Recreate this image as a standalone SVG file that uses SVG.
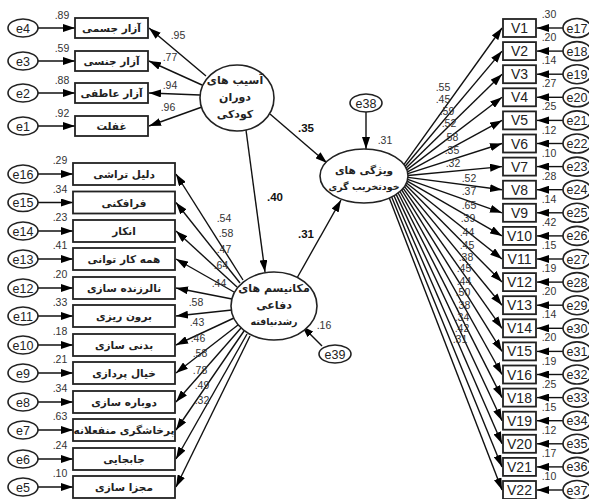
<svg xmlns="http://www.w3.org/2000/svg" width="589" height="499" viewBox="0 0 589 499">
<defs>
<marker id="ah" viewBox="0 0 12 8" refX="12" refY="4" markerWidth="12" markerHeight="8" markerUnits="userSpaceOnUse" orient="auto"><path d="M0,0 L12,4 L0,8 z" fill="#000"/></marker>
<style>
.box{fill:#fff;stroke:#222;stroke-width:1.8}
.el{fill:#fff;stroke:#222;stroke-width:1.6}
.ln{stroke:#111;stroke-width:1.4;fill:none;marker-end:url(#ah)}
.fa{font-family:"DejaVu Sans",sans-serif;font-size:10.5px;font-weight:bold;fill:#222;text-anchor:middle}
.fl{font-family:"DejaVu Sans",sans-serif;font-size:11px;font-weight:bold;fill:#222;text-anchor:middle}
.et{font-family:"Liberation Sans",Arial,sans-serif;font-size:12.5px;fill:#222;text-anchor:middle}
.vt{font-family:"Liberation Sans",Arial,sans-serif;font-size:14px;fill:#222;text-anchor:middle}
.nm{font-family:"Liberation Sans",Arial,sans-serif;font-size:10.5px;fill:#333;text-anchor:middle}
.bd{font-family:"Liberation Sans",Arial,sans-serif;font-size:11.5px;font-weight:bold;fill:#111;text-anchor:middle}
</style>
</defs>
<rect width="589" height="499" fill="#fff"/>

<g id="connectors">
<line class="ln" x1="38" y1="28" x2="75" y2="28"/>
<line class="ln" x1="38" y1="61" x2="75" y2="61"/>
<line class="ln" x1="38" y1="93" x2="75" y2="93"/>
<line class="ln" x1="38" y1="126" x2="75" y2="126"/>
<line class="ln" x1="206" y1="76" x2="149" y2="28"/>
<line class="ln" x1="202" y1="85" x2="149" y2="61"/>
<line class="ln" x1="200" y1="95" x2="149" y2="93"/>
<line class="ln" x1="202" y1="107" x2="149" y2="126"/>
<line class="ln" x1="246" y1="130" x2="265" y2="272"/>
<line class="ln" x1="270" y1="114" x2="327" y2="163"/>
<line class="ln" x1="297" y1="278" x2="341" y2="200"/>
<line class="ln" x1="366" y1="112" x2="366" y2="149"/>
<line class="ln" x1="322" y1="346" x2="302" y2="326"/>
<line class="ln" x1="38" y1="174" x2="73" y2="174"/>
<line class="ln" x1="38" y1="202.5" x2="73" y2="202.5"/>
<line class="ln" x1="38" y1="231" x2="73" y2="231"/>
<line class="ln" x1="38" y1="259" x2="73" y2="259"/>
<line class="ln" x1="38" y1="288" x2="73" y2="288"/>
<line class="ln" x1="38" y1="316" x2="73" y2="316"/>
<line class="ln" x1="38" y1="345" x2="73" y2="345"/>
<line class="ln" x1="38" y1="373" x2="73" y2="373"/>
<line class="ln" x1="38" y1="402" x2="73" y2="402"/>
<line class="ln" x1="38" y1="430" x2="73" y2="430"/>
<line class="ln" x1="38" y1="459" x2="73" y2="459"/>
<line class="ln" x1="38" y1="487" x2="73" y2="487"/>
<line class="ln" x1="243" y1="280" x2="176" y2="174"/>
<line class="ln" x1="240" y1="283" x2="176" y2="202.5"/>
<line class="ln" x1="237" y1="287" x2="176" y2="231"/>
<line class="ln" x1="234" y1="292" x2="176" y2="259"/>
<line class="ln" x1="232" y1="299" x2="176" y2="288"/>
<line class="ln" x1="232" y1="310" x2="176" y2="316"/>
<line class="ln" x1="234" y1="318" x2="176" y2="345"/>
<line class="ln" x1="238" y1="325" x2="176" y2="373"/>
<line class="ln" x1="241" y1="328" x2="176" y2="402"/>
<line class="ln" x1="244" y1="331" x2="176" y2="430"/>
<line class="ln" x1="247" y1="334" x2="176" y2="459"/>
<line class="ln" x1="250" y1="336" x2="176" y2="487"/>
<line class="ln" x1="403.9" y1="164.6" x2="502" y2="28"/>
<line class="ln" x1="405.1" y1="166.3" x2="502" y2="51.1"/>
<line class="ln" x1="406.1" y1="168.1" x2="502" y2="74.2"/>
<line class="ln" x1="406.9" y1="169.9" x2="502" y2="97.3"/>
<line class="ln" x1="407.5" y1="171.8" x2="502" y2="120.4"/>
<line class="ln" x1="407.8" y1="173.6" x2="502" y2="143.5"/>
<line class="ln" x1="408" y1="175.5" x2="502" y2="166.6"/>
<line class="ln" x1="408" y1="177.4" x2="502" y2="189.7"/>
<line class="ln" x1="407.7" y1="179.3" x2="502" y2="212.8"/>
<line class="ln" x1="407.2" y1="181.2" x2="502" y2="235.9"/>
<line class="ln" x1="406.5" y1="183" x2="502" y2="259"/>
<line class="ln" x1="405.6" y1="184.8" x2="502" y2="282.1"/>
<line class="ln" x1="404.5" y1="186.6" x2="502" y2="305.2"/>
<line class="ln" x1="403.2" y1="188.3" x2="502" y2="328.3"/>
<line class="ln" x1="401.7" y1="189.9" x2="502" y2="351.4"/>
<line class="ln" x1="400" y1="191.5" x2="502" y2="374.5"/>
<line class="ln" x1="398.2" y1="193" x2="502" y2="397.6"/>
<line class="ln" x1="396.2" y1="194.4" x2="502" y2="420.7"/>
<line class="ln" x1="394" y1="195.7" x2="502" y2="443.8"/>
<line class="ln" x1="391.7" y1="197" x2="502" y2="466.9"/>
<line class="ln" x1="389.3" y1="198.1" x2="502" y2="490"/>
<line class="ln" x1="563" y1="28" x2="537" y2="28"/>
<line class="ln" x1="563" y1="51.1" x2="537" y2="51.1"/>
<line class="ln" x1="563" y1="74.2" x2="537" y2="74.2"/>
<line class="ln" x1="563" y1="97.3" x2="537" y2="97.3"/>
<line class="ln" x1="563" y1="120.4" x2="537" y2="120.4"/>
<line class="ln" x1="563" y1="143.5" x2="537" y2="143.5"/>
<line class="ln" x1="563" y1="166.6" x2="537" y2="166.6"/>
<line class="ln" x1="563" y1="189.7" x2="537" y2="189.7"/>
<line class="ln" x1="563" y1="212.8" x2="537" y2="212.8"/>
<line class="ln" x1="563" y1="235.9" x2="537" y2="235.9"/>
<line class="ln" x1="563" y1="259" x2="537" y2="259"/>
<line class="ln" x1="563" y1="282.1" x2="537" y2="282.1"/>
<line class="ln" x1="563" y1="305.2" x2="537" y2="305.2"/>
<line class="ln" x1="563" y1="328.3" x2="537" y2="328.3"/>
<line class="ln" x1="563" y1="351.4" x2="537" y2="351.4"/>
<line class="ln" x1="563" y1="374.5" x2="537" y2="374.5"/>
<line class="ln" x1="563" y1="397.6" x2="537" y2="397.6"/>
<line class="ln" x1="563" y1="420.7" x2="537" y2="420.7"/>
<line class="ln" x1="563" y1="443.8" x2="537" y2="443.8"/>
<line class="ln" x1="563" y1="466.9" x2="537" y2="466.9"/>
<line class="ln" x1="563" y1="490" x2="537" y2="490"/>
</g>

<g id="coefficients">
<text class="bd" x="306" y="132">.35</text>
<text class="bd" x="275" y="201">.40</text>
<text class="bd" x="306" y="238">.31</text>
<text class="nm" x="385" y="144">.31</text>
<text class="nm" x="324" y="329">.16</text>
<text class="nm" x="178" y="39">.95</text>
<text class="nm" x="170" y="61">.77</text>
<text class="nm" x="170" y="89">.94</text>
<text class="nm" x="168" y="111">.96</text>
<text class="nm" x="62" y="19">.89</text>
<text class="nm" x="62" y="52">.59</text>
<text class="nm" x="62" y="84">.88</text>
<text class="nm" x="62" y="117">.92</text>
<text class="nm" x="60" y="164">.29</text>
<text class="nm" x="60" y="192.5">.34</text>
<text class="nm" x="60" y="221">.23</text>
<text class="nm" x="60" y="249">.41</text>
<text class="nm" x="60" y="278">.20</text>
<text class="nm" x="60" y="306">.33</text>
<text class="nm" x="60" y="335">.18</text>
<text class="nm" x="60" y="363">.21</text>
<text class="nm" x="60" y="392">.34</text>
<text class="nm" x="60" y="420">.63</text>
<text class="nm" x="60" y="449">.24</text>
<text class="nm" x="60" y="477">.10</text>
<text class="nm" x="224" y="222">.54</text>
<text class="nm" x="226" y="237">.58</text>
<text class="nm" x="224" y="253">.47</text>
<text class="nm" x="221" y="269">.64</text>
<text class="nm" x="219" y="287">.44</text>
<text class="nm" x="196" y="306">.58</text>
<text class="nm" x="197" y="326">.43</text>
<text class="nm" x="198" y="342">.46</text>
<text class="nm" x="200" y="357">.58</text>
<text class="nm" x="200" y="374">.78</text>
<text class="nm" x="202" y="389">.49</text>
<text class="nm" x="202" y="404">.32</text>
<text class="nm" x="443" y="91">.55</text>
<text class="nm" x="443" y="103">.45</text>
<text class="nm" x="447" y="115">.59</text>
<text class="nm" x="449" y="127">.52</text>
<text class="nm" x="451" y="141">.58</text>
<text class="nm" x="452" y="154">.35</text>
<text class="nm" x="453" y="167">.32</text>
<text class="nm" x="469" y="182">.52</text>
<text class="nm" x="469" y="195">.37</text>
<text class="nm" x="469" y="209">.65</text>
<text class="nm" x="468" y="222">.39</text>
<text class="nm" x="467" y="236">.44</text>
<text class="nm" x="467" y="249">.45</text>
<text class="nm" x="466" y="261">.38</text>
<text class="nm" x="464" y="272">.45</text>
<text class="nm" x="464" y="285">.44</text>
<text class="nm" x="463" y="296">.50</text>
<text class="nm" x="463" y="309">.38</text>
<text class="nm" x="462" y="321">.34</text>
<text class="nm" x="462" y="332">.42</text>
<text class="nm" x="460" y="343">.31</text>
<text class="nm" x="549" y="18">.30</text>
<text class="nm" x="549" y="41.1">.20</text>
<text class="nm" x="549" y="64.2">.14</text>
<text class="nm" x="549" y="87.3">.27</text>
<text class="nm" x="549" y="110.4">.25</text>
<text class="nm" x="549" y="133.5">.12</text>
<text class="nm" x="549" y="156.6">.10</text>
<text class="nm" x="549" y="179.7">.28</text>
<text class="nm" x="549" y="202.8">.14</text>
<text class="nm" x="549" y="225.9">.42</text>
<text class="nm" x="549" y="249">.15</text>
<text class="nm" x="549" y="272.1">.19</text>
<text class="nm" x="549" y="295.2">.20</text>
<text class="nm" x="549" y="318.3">.14</text>
<text class="nm" x="549" y="341.4">.20</text>
<text class="nm" x="549" y="364.5">.19</text>
<text class="nm" x="549" y="387.6">.25</text>
<text class="nm" x="549" y="410.7">.15</text>
<text class="nm" x="549" y="433.8">.12</text>
<text class="nm" x="549" y="456.9">.17</text>
<text class="nm" x="549" y="480">.10</text>
</g>

<g id="childhood"><ellipse class="el" cx="237" cy="98" rx="37" ry="33"/><text class="fl" x="235" y="84">آسیب های</text><text class="fl" x="235" y="101">دوران</text><text class="fl" x="235" y="118">کودکی</text></g>
<g id="defense"><ellipse class="el" cx="274" cy="306" rx="43" ry="34"/><text class="fl" x="274" y="292">مکانیسم های</text><text class="fl" x="274" y="309">دفاعی</text><text class="fa" x="274" y="325" style="font-size:9.5px">رشدنیافته</text></g>
<g id="selfdestruct"><ellipse class="el" cx="364" cy="176" rx="44" ry="27"/><text class="fl" x="364" y="174" style="font-size:10.5px">ویژگی های</text><text class="fl" x="364" y="190" style="font-size:9.5px">خودتخریب گری</text></g>
<g id="e38"><ellipse class="el" cx="366" cy="103" rx="16" ry="9"/><text class="et" x="366" y="107.5">e38</text></g>
<g id="e39"><ellipse class="el" cx="335" cy="354" rx="16" ry="9"/><text class="et" x="335" y="358.5">e39</text></g>

<g id="n-e4"><ellipse class="el" cx="23" cy="28" rx="15" ry="9"/><text class="et" x="23" y="32.5">e4</text></g>
<g id="n-e3"><ellipse class="el" cx="23" cy="61" rx="15" ry="9"/><text class="et" x="23" y="65.5">e3</text></g>
<g id="n-e2"><ellipse class="el" cx="23" cy="93" rx="15" ry="9"/><text class="et" x="23" y="97.5">e2</text></g>
<g id="n-e1"><ellipse class="el" cx="23" cy="126" rx="15" ry="9"/><text class="et" x="23" y="130.5">e1</text></g>
<g id="b-physical"><rect class="box" x="75" y="18" width="73" height="20"/><text class="fa" x="111.5" y="32">آزار جسمی</text></g>
<g id="b-sexual"><rect class="box" x="75" y="51" width="73" height="20"/><text class="fa" x="111.5" y="65">آزار جنسی</text></g>
<g id="b-emotional"><rect class="box" x="75" y="83" width="73" height="20"/><text class="fa" x="111.5" y="97">آزار عاطفی</text></g>
<g id="b-neglect"><rect class="box" x="75" y="116" width="73" height="20"/><text class="fa" x="111.5" y="130">غفلت</text></g>

<g id="n-e16"><ellipse class="el" cx="23" cy="174" rx="15" ry="9"/><text class="et" x="23" y="178.5">e16</text></g>
<g id="n-e15"><ellipse class="el" cx="23" cy="202.5" rx="15" ry="9"/><text class="et" x="23" y="207">e15</text></g>
<g id="n-e14"><ellipse class="el" cx="23" cy="231" rx="15" ry="9"/><text class="et" x="23" y="235.5">e14</text></g>
<g id="n-e13"><ellipse class="el" cx="23" cy="259" rx="15" ry="9"/><text class="et" x="23" y="263.5">e13</text></g>
<g id="n-e12"><ellipse class="el" cx="23" cy="288" rx="15" ry="9"/><text class="et" x="23" y="292.5">e12</text></g>
<g id="n-e11"><ellipse class="el" cx="23" cy="316" rx="15" ry="9"/><text class="et" x="23" y="320.5">e11</text></g>
<g id="n-e10"><ellipse class="el" cx="23" cy="345" rx="15" ry="9"/><text class="et" x="23" y="349.5">e10</text></g>
<g id="n-e9"><ellipse class="el" cx="23" cy="373" rx="15" ry="9"/><text class="et" x="23" y="377.5">e9</text></g>
<g id="n-e8"><ellipse class="el" cx="23" cy="402" rx="15" ry="9"/><text class="et" x="23" y="406.5">e8</text></g>
<g id="n-e7"><ellipse class="el" cx="23" cy="430" rx="15" ry="9"/><text class="et" x="23" y="434.5">e7</text></g>
<g id="n-e6"><ellipse class="el" cx="23" cy="459" rx="15" ry="9"/><text class="et" x="23" y="463.5">e6</text></g>
<g id="n-e5"><ellipse class="el" cx="23" cy="487" rx="15" ry="9"/><text class="et" x="23" y="491.5">e5</text></g>
<g id="b1"><rect class="box" x="73" y="163" width="102" height="22"/><text class="fa" x="124" y="178">دلیل تراشی</text></g>
<g id="b2"><rect class="box" x="73" y="191.5" width="102" height="22"/><text class="fa" x="124" y="206.5">فرافکنی</text></g>
<g id="b3"><rect class="box" x="73" y="220" width="102" height="22"/><text class="fa" x="124" y="235">انکار</text></g>
<g id="b4"><rect class="box" x="73" y="248" width="102" height="22"/><text class="fa" x="124" y="263">همه کار توانی</text></g>
<g id="b5"><rect class="box" x="73" y="277" width="102" height="22"/><text class="fa" x="124" y="292">نالرزنده سازی</text></g>
<g id="b6"><rect class="box" x="73" y="305" width="102" height="22"/><text class="fa" x="124" y="320">برون ریزی</text></g>
<g id="b7"><rect class="box" x="73" y="334" width="102" height="22"/><text class="fa" x="124" y="349">بدنی سازی</text></g>
<g id="b8"><rect class="box" x="73" y="362" width="102" height="22"/><text class="fa" x="124" y="377">خیال پردازی</text></g>
<g id="b9"><rect class="box" x="73" y="391" width="102" height="22"/><text class="fa" x="124" y="406">دوباره سازی</text></g>
<g id="b10"><rect class="box" x="73" y="419" width="102" height="22"/><text class="fa" x="124" y="434">پرخاشگری منفعلانه</text></g>
<g id="b11"><rect class="box" x="73" y="448" width="102" height="22"/><text class="fa" x="124" y="463">جابجایی</text></g>
<g id="b12"><rect class="box" x="73" y="476" width="102" height="22"/><text class="fa" x="124" y="491">مجزا سازی</text></g>

<g id="V1"><rect class="box" x="503" y="19" width="33" height="18"/><text class="vt" x="519.5" y="33">V1</text></g>
<g id="V2"><rect class="box" x="503" y="42.1" width="33" height="18"/><text class="vt" x="519.5" y="56.1">V2</text></g>
<g id="V3"><rect class="box" x="503" y="65.2" width="33" height="18"/><text class="vt" x="519.5" y="79.2">V3</text></g>
<g id="V4"><rect class="box" x="503" y="88.3" width="33" height="18"/><text class="vt" x="519.5" y="102.3">V4</text></g>
<g id="V5"><rect class="box" x="503" y="111.4" width="33" height="18"/><text class="vt" x="519.5" y="125.4">V5</text></g>
<g id="V6"><rect class="box" x="503" y="134.5" width="33" height="18"/><text class="vt" x="519.5" y="148.5">V6</text></g>
<g id="V7"><rect class="box" x="503" y="157.6" width="33" height="18"/><text class="vt" x="519.5" y="171.6">V7</text></g>
<g id="V8"><rect class="box" x="503" y="180.7" width="33" height="18"/><text class="vt" x="519.5" y="194.7">V8</text></g>
<g id="V9"><rect class="box" x="503" y="203.8" width="33" height="18"/><text class="vt" x="519.5" y="217.8">V9</text></g>
<g id="V10"><rect class="box" x="503" y="226.9" width="33" height="18"/><text class="vt" x="519.5" y="240.9">V10</text></g>
<g id="V11"><rect class="box" x="503" y="250" width="33" height="18"/><text class="vt" x="519.5" y="264">V11</text></g>
<g id="V12"><rect class="box" x="503" y="273.1" width="33" height="18"/><text class="vt" x="519.5" y="287.1">V12</text></g>
<g id="V13"><rect class="box" x="503" y="296.2" width="33" height="18"/><text class="vt" x="519.5" y="310.2">V13</text></g>
<g id="V14"><rect class="box" x="503" y="319.3" width="33" height="18"/><text class="vt" x="519.5" y="333.3">V14</text></g>
<g id="V15"><rect class="box" x="503" y="342.4" width="33" height="18"/><text class="vt" x="519.5" y="356.4">V15</text></g>
<g id="V16"><rect class="box" x="503" y="365.5" width="33" height="18"/><text class="vt" x="519.5" y="379.5">V16</text></g>
<g id="V18"><rect class="box" x="503" y="388.6" width="33" height="18"/><text class="vt" x="519.5" y="402.6">V18</text></g>
<g id="V19"><rect class="box" x="503" y="411.7" width="33" height="18"/><text class="vt" x="519.5" y="425.7">V19</text></g>
<g id="V20"><rect class="box" x="503" y="434.8" width="33" height="18"/><text class="vt" x="519.5" y="448.8">V20</text></g>
<g id="V21"><rect class="box" x="503" y="457.9" width="33" height="18"/><text class="vt" x="519.5" y="471.9">V21</text></g>
<g id="V22"><rect class="box" x="503" y="481" width="33" height="18"/><text class="vt" x="519.5" y="495">V22</text></g>
<g id="e17"><ellipse class="el" cx="577" cy="28" rx="14" ry="9.5"/><text class="et" x="577" y="32.5">e17</text></g>
<g id="e18"><ellipse class="el" cx="577" cy="51.1" rx="14" ry="9.5"/><text class="et" x="577" y="55.6">e18</text></g>
<g id="e19"><ellipse class="el" cx="577" cy="74.2" rx="14" ry="9.5"/><text class="et" x="577" y="78.7">e19</text></g>
<g id="e20"><ellipse class="el" cx="577" cy="97.3" rx="14" ry="9.5"/><text class="et" x="577" y="101.8">e20</text></g>
<g id="e21"><ellipse class="el" cx="577" cy="120.4" rx="14" ry="9.5"/><text class="et" x="577" y="124.9">e21</text></g>
<g id="e22"><ellipse class="el" cx="577" cy="143.5" rx="14" ry="9.5"/><text class="et" x="577" y="148">e22</text></g>
<g id="e23"><ellipse class="el" cx="577" cy="166.6" rx="14" ry="9.5"/><text class="et" x="577" y="171.1">e23</text></g>
<g id="e24"><ellipse class="el" cx="577" cy="189.7" rx="14" ry="9.5"/><text class="et" x="577" y="194.2">e24</text></g>
<g id="e25"><ellipse class="el" cx="577" cy="212.8" rx="14" ry="9.5"/><text class="et" x="577" y="217.3">e25</text></g>
<g id="e26"><ellipse class="el" cx="577" cy="235.9" rx="14" ry="9.5"/><text class="et" x="577" y="240.4">e26</text></g>
<g id="e27"><ellipse class="el" cx="577" cy="259" rx="14" ry="9.5"/><text class="et" x="577" y="263.5">e27</text></g>
<g id="e28"><ellipse class="el" cx="577" cy="282.1" rx="14" ry="9.5"/><text class="et" x="577" y="286.6">e28</text></g>
<g id="e29"><ellipse class="el" cx="577" cy="305.2" rx="14" ry="9.5"/><text class="et" x="577" y="309.7">e29</text></g>
<g id="e30"><ellipse class="el" cx="577" cy="328.3" rx="14" ry="9.5"/><text class="et" x="577" y="332.8">e30</text></g>
<g id="e31"><ellipse class="el" cx="577" cy="351.4" rx="14" ry="9.5"/><text class="et" x="577" y="355.9">e31</text></g>
<g id="e32"><ellipse class="el" cx="577" cy="374.5" rx="14" ry="9.5"/><text class="et" x="577" y="379">e32</text></g>
<g id="e33"><ellipse class="el" cx="577" cy="397.6" rx="14" ry="9.5"/><text class="et" x="577" y="402.1">e33</text></g>
<g id="e34"><ellipse class="el" cx="577" cy="420.7" rx="14" ry="9.5"/><text class="et" x="577" y="425.2">e34</text></g>
<g id="e35"><ellipse class="el" cx="577" cy="443.8" rx="14" ry="9.5"/><text class="et" x="577" y="448.3">e35</text></g>
<g id="e36"><ellipse class="el" cx="577" cy="466.9" rx="14" ry="9.5"/><text class="et" x="577" y="471.4">e36</text></g>
<g id="e37"><ellipse class="el" cx="577" cy="490" rx="14" ry="9.5"/><text class="et" x="577" y="494.5">e37</text></g>
</svg>
